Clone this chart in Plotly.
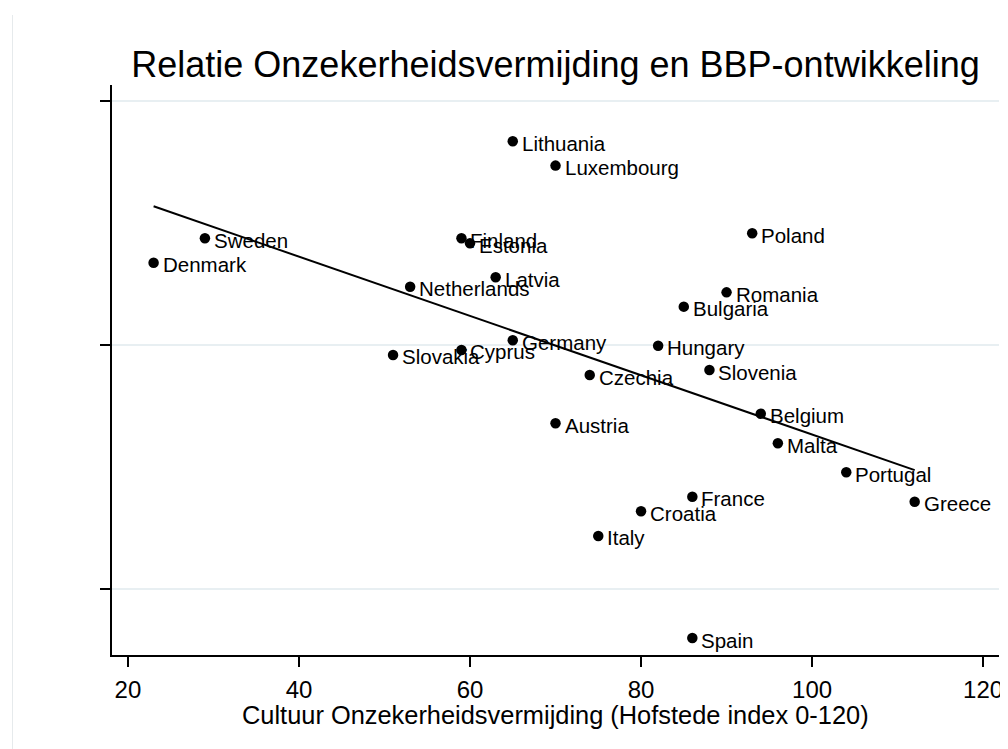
import numpy as np
import plotly.graph_objects as go

# Hofstede onzekerheidsvermijding vs BBP-ontwikkeling (y, no labels in source)
countries = ["Lithuania", "Luxembourg", "Sweden", "Denmark", "Finland", "Estonia",
             "Poland", "Latvia", "Netherlands", "Romania", "Bulgaria", "Germany",
             "Hungary", "Slovakia", "Cyprus", "Slovenia", "Czechia", "Belgium",
             "Austria", "Malta", "Portugal", "France", "Greece", "Croatia",
             "Italy", "Spain"]
uai = [65, 70, 29, 23, 59, 60,
       93, 63, 53, 90, 85, 65,
       82, 51, 59, 88, 74, 94,
       70, 96, 104, 86, 112, 80,
       75, 86]
gdp = [3.67, 3.47, 2.875, 2.675, 2.875, 2.834,
       2.916, 2.555, 2.478, 2.432, 2.315, 2.039,
       1.995, 1.919, 1.960, 1.796, 1.755, 1.438,
       1.360, 1.196, 0.958, 0.758, 0.717, 0.639,
       0.437, -0.399]

x_ticks = [20, 40, 60, 80, 100, 120]
y_ticks = [0, 2, 4]

FONT = "Liberation Sans, Arial, sans-serif"

# lineaire fit
slope, intercept = np.polyfit(uai, gdp, 1)
fit_x = [min(uai), max(uai)]
fit_y = [slope * v + intercept for v in fit_x]

fig = go.Figure()
fig.add_trace(
    go.Scatter(
        x=uai,
        y=gdp,
        mode="markers",
        marker=dict(color="black", size=10.5),
        showlegend=False,
    )
)
fig.add_trace(
    go.Scatter(
        x=fit_x,
        y=fit_y,
        mode="lines",
        line=dict(color="black", width=2),
        showlegend=False,
    )
)

# landnamen rechts van de punten
labels = [
    dict(x=xv, y=yv, text=name, showarrow=False, xanchor="left", yanchor="middle",
         xshift=7, yshift=-2, font=dict(family=FONT, size=20.5, color="black"))
    for name, xv, yv in zip(countries, uai, gdp)
]
labels.append(
    dict(
        text="Cultuur Onzekerheidsvermijding (Hofstede index 0-120)",
        xref="paper", yref="paper", x=0.5, y=0,
        xanchor="center", yanchor="middle", yshift=-60,
        showarrow=False,
        font=dict(family=FONT, size=25.4, color="black"),
    )
)

fig.update_layout(
    width=1000,
    height=741,
    margin=dict(l=104, r=5, t=77, b=94),
    plot_bgcolor="white",
    paper_bgcolor="white",
    font=dict(family=FONT, color="black"),
    title=dict(
        text="Relatie Onzekerheidsvermijding en BBP-ontwikkeling",
        font=dict(family=FONT, size=36, color="black"),
        x=0.5475,
        xanchor="center",
        y=1 - 56.5 / 741,
        yanchor="middle",
        yref="container",
    ),
    xaxis=dict(
        range=[18.135, 121.86],
        tickvals=x_ticks,
        ticks="outside",
        ticklen=10,
        tickwidth=1.5,
        tickcolor="black",
        tickfont=dict(family=FONT, size=24, color="black"),
        ticklabelstandoff=2,
        showline=True,
        linecolor="black",
        linewidth=1.5,
        showgrid=False,
        zeroline=False,
    ),
    yaxis=dict(
        range=[-0.538, 4.130],
        tickvals=y_ticks,
        showticklabels=False,
        ticks="outside",
        ticklen=10,
        tickwidth=1.5,
        tickcolor="black",
        showline=True,
        linecolor="black",
        linewidth=1.5,
        showgrid=True,
        gridcolor="#e8eff2",
        gridwidth=1.5,
        zeroline=False,
    ),
    annotations=labels,
    shapes=[
        dict(
            type="line",
            xref="paper",
            yref="paper",
            x0=-0.1122,
            x1=-0.1122,
            y0=-0.165,
            y1=1.1228,
            line=dict(color="#e6eaec", width=1),
        )
    ],
)

fig.write_html("out.html")
